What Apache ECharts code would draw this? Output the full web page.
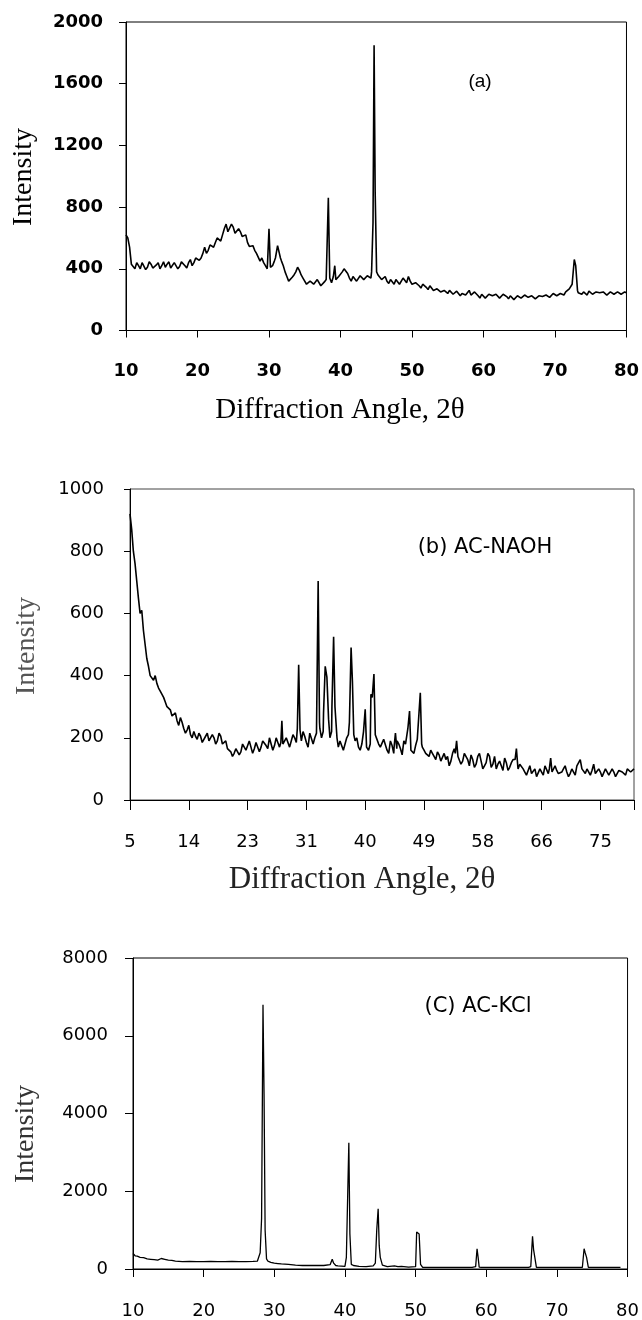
<!DOCTYPE html>
<html>
<head>
<meta charset="utf-8">
<script src="https://cdn.jsdelivr.net/npm/echarts@6/dist/echarts.min.js"></script>
<style>
html,body{margin:0;padding:0;background:#fff;}
#chart{width:642px;height:1320px;}
</style>
</head>
<body>
<div id="chart"></div>
<script>
// ---------- Panel (a) ----------
const angleStartA = 10, angleStepA = 0.5;
const intensityA = [
 620,540,420,440,400,450,410,430,395,440,420,410,445,400,430,415,440,405,460,440,
 480,470,540,520,560,570,600,620,690,640,670,620,640,600,570,540,520,490,470,420,
 430,420,520,500,420,350,330,360,410,360,330,290,330,310,320,300,330,330,350,320,
 340,400,370,320,340,330,350,340,360,380,380,350,340,320,330,300,320,310,330,350,
 300,310,290,300,280,290,260,270,250,260,240,250,230,250,240,230,260,220,240,210,
 230,220,240,215,230,220,235,205,220,210,230,215,225,205,220,215,230,210,240,220,
 235,225,240,250,270,380,330,240,250,230,250,240,260,240,245,235,250,240,260,230,245
];
// in-between readings (at start + 0.25 + k*0.5)
const intensityMidA = [
 600,430,400,420,440,395,445,405,425,400,
 445,430,405,440,400,445,420,440,420,470,
 455,500,500,555,540,600,580,660,640,690,
 630,660,610,620,545,550,500,450,440,400,
 400,450,520,450,380,320,345,380,390,340,
 300,320,300,330,290,315,330,310,380,350,
 380,390,340,350,320,355,330,355,340,400,
 360,330,350,305,325,330,300,340,310,320,
 290,300,275,290,265,280,255,275,240,255,
 260,235,255,225,250,245,230,250,225,235,
 210,235,225,235,210,235,220,225,200,225,
 210,230,215,225,205,225,220,230,215,240,
 225,240,230,255,280,400,245,235,240,255,
 235,250,245,250,230,250,235,250,235,250
];
const peaksA = [
 [[29.8,440],[30.0,660],[30.2,410]],
 [[30.9,470],[31.2,550],[31.6,470]],
 [[38.1,330],[38.3,860],[38.5,340]],
 [[39.05,340],[39.2,420],[39.35,330]],
 [[44.35,380],[44.55,700],[44.7,1850],[44.85,900],[45.05,380]],
 [[72.4,300],[72.7,460],[72.9,420],[73.15,260]]
];

// ---------- Panel (b) ----------
const angleStartB = 5, angleStepB = 0.5;
const intensityB = [
 920,800,705,600,545,455,400,385,375,350,330,300,290,265,255,265,230,225,210,220,
 195,205,190,215,185,200,190,205,175,165,155,150,170,155,175,160,185,165,180,170,
 190,165,195,175,185,190,180,195,175,200,215,190,205,170,210,200,200,200,250,230,
 220,200,170,185,165,210,190,190,170,180,180,160,300,220,180,165,200,150,175,215,
 180,145,180,235,160,175,165,170,150,140,150,130,145,120,130,110,150,190,140,125,
 155,110,130,115,150,100,120,140,115,100,125,95,120,105,130,165,115,100,80,110,
 85,75,100,80,105,135,90,95,80,100,90,85,95,110,130,95,100,80,115,85,
 90,80,95,75,90,80,95,85,100,90,100
];
const intensityMidB = [
 870,760,650,610,500,430,395,400,360,345,
 315,305,270,280,240,250,215,240,200,205,
 215,185,205,190,210,180,215,180,190,160,
 140,165,145,180,160,190,150,185,155,190,
 175,200,160,200,170,175,200,170,210,185,
 200,220,185,215,180,215,230,220,210,200,
 190,180,190,160,200,230,170,200,160,200,
 175,180,230,195,170,195,160,190,150,190,
 165,190,175,200,150,195,170,160,155,160,
 140,155,125,150,140,125,165,150,115,150,
 130,145,105,140,125,110,150,105,140,115,
 110,135,95,120,135,100,120,90,95,85,
 100,70,90,110,85,95,110,85,90,110,
 75,100,80,115,100,85,105,95,85,100,
 75,100,80,100,75,95,90,80,105,85
];
const peaksB = [
 [[27.45,185],[27.6,255],[27.75,180]],
 [[29.9,230],[30.1,435],[30.3,225]],
 [[32.8,215],[33.0,704],[33.2,250]],
 [[33.8,280],[34.05,430],[34.3,395],[34.55,260]],
 [[35.05,300],[35.3,525],[35.5,300],[35.8,200]],
 [[37.65,250],[37.9,490],[38.1,380],[38.3,210]],
 [[39.75,220],[40.0,292],[40.2,170]],
 [[40.85,340],[41.05,330],[41.3,405],[41.5,210]],
 [[44.3,170],[44.5,215],[44.7,165]],
 [[46.35,230],[46.6,286],[46.8,160]],
 [[47.95,200],[48.2,345],[48.4,180]],
 [[53.4,150],[53.6,190],[53.8,140]],
 [[62.3,130],[62.5,165],[62.7,110]],
 [[67.4,100],[67.6,135],[67.8,90]]
];
const tickLabelsB = ['5','14','23','31','40','49','58','66','75'];

// ---------- Panel (c) ----------
const angleC = [10,10.1,10.3,10.6,11,11.5,12,12.5,13,13.5,14,14.5,15,15.5,16,17,18,19,20,21,22,23,24,25,26,27,27.6,28.0,28.2,28.4,28.55,28.7,28.9,29.1,29.5,30,30.5,31,32,33,34,35,36,37,37.9,38.2,38.4,38.7,39,40,40.2,40.4,40.55,40.7,40.9,41.2,42,43,44,44.3,44.5,44.7,44.85,45.0,45.3,46,47,47.5,48,49,50,50.15,50.3,50.5,50.7,51,52,54,56,58,58.5,58.7,58.85,59.0,59.3,60,62,64,66,66.3,66.55,66.7,66.9,67.1,68,70,72,73.6,73.85,74.0,74.2,74.45,75,77,79];
const intensityC = [400,420,340,330,300,290,260,250,240,230,270,250,230,220,200,190,195,190,190,195,190,190,195,190,190,195,200,420,1300,6800,4500,1000,260,200,170,150,140,130,120,100,90,90,95,90,110,250,150,90,80,70,300,2000,3250,900,120,90,70,60,80,150,1000,1550,600,300,100,60,80,60,70,50,60,950,980,900,120,40,40,40,40,40,60,520,300,50,40,40,40,40,40,60,840,500,520,40,40,40,40,40,520,420,300,40,40,40,40];

// ---------- helpers ----------
function buildPoints(start, step, vals, mids, peaks) {
  let pts = vals.map((v, i) => [+(start + i * step).toFixed(3), v]);
  pts = pts.concat(mids.map((v, i) => [+(start + step / 2 + i * step).toFixed(3), v]));
  peaks.forEach(g => {
    const lo = g[0][0], hi = g[g.length - 1][0];
    pts = pts.filter(p => p[0] < lo || p[0] > hi);
    pts = pts.concat(g);
  });
  pts.sort((a, b) => a[0] - b[0]);
  return pts;
}
const dataA = buildPoints(angleStartA, angleStepA, intensityA, intensityMidA, peaksA);
const dataB = buildPoints(angleStartB, angleStepB, intensityB, intensityMidB, peaksB);
const dataC = angleC.map((x, i) => [x, intensityC[i]]);

const serif = "'Liberation Serif', 'Times New Roman', serif";
const sans = "'DejaVu Sans', sans-serif";
const plain = v => String(v);

const chart = echarts.init(document.getElementById('chart'), null, {renderer: 'canvas'});
chart.setOption({
  animation: false,
  backgroundColor: '#fff',
  grid: [
    {left: 126, right: 14, top: 22, height: 308.5, show: true, borderColor: '#000', borderWidth: 1},
    {left: 130, right: 8, top: 489, height: 311, show: true, borderColor: '#444', borderWidth: 1},
    {left: 133, right: 9, top: 958, height: 311, show: true, borderColor: '#000', borderWidth: 1}
  ],
  xAxis: [
    {gridIndex: 0, type: 'value', min: 10, max: 80, interval: 10,
     axisLine: {lineStyle: {color: '#000', width: 1}},
     axisTick: {show: true, length: 7, lineStyle: {color: '#000'}},
     axisLabel: {margin: 32, color: '#000', fontFamily: sans, fontWeight: 'bold', fontSize: 18, formatter: plain},
     splitLine: {show: false}},
    {gridIndex: 1, type: 'value', min: 5, max: 80,
     axisLine: {show: false}, axisTick: {show: false}, axisLabel: {show: false}, splitLine: {show: false}},
    {gridIndex: 2, type: 'value', min: 10, max: 80, interval: 10,
     axisLine: {lineStyle: {color: '#000', width: 1}},
     axisTick: {show: true, length: 8, lineStyle: {color: '#000'}},
     axisLabel: {margin: 33, color: '#000', fontFamily: sans, fontSize: 18, formatter: plain},
     splitLine: {show: false}},
    // tick axis for panel (b): offset scale 0..75 carrying labels 5..75
    {gridIndex: 1, type: 'value', min: 0, max: 75, interval: 8.75, position: 'bottom',
     axisLine: {lineStyle: {color: '#000', width: 1}},
     axisTick: {show: true, length: 10, lineStyle: {color: '#000'}},
     axisLabel: {margin: 33, color: '#000', fontFamily: sans, fontSize: 18,
       formatter: function (v) { const i = Math.round(v / 8.75); return (Math.abs(v - i * 8.75) < 1e-6 && i < tickLabelsB.length) ? tickLabelsB[i] : ''; }},
     splitLine: {show: false}}
  ],
  yAxis: [
    {gridIndex: 0, type: 'value', min: 0, max: 2000, interval: 400,
     axisLine: {show: true, lineStyle: {color: '#000', width: 1}},
     axisTick: {show: true, length: 7, lineStyle: {color: '#000'}},
     axisLabel: {margin: 23, color: '#000', fontFamily: sans, fontWeight: 'bold', fontSize: 18, formatter: plain},
     splitLine: {show: false}},
    {gridIndex: 1, type: 'value', min: 0, max: 1000, interval: 200,
     axisLine: {show: true, lineStyle: {color: '#000', width: 1}},
     axisTick: {show: true, length: 6, lineStyle: {color: '#000'}},
     axisLabel: {margin: 26, color: '#000', fontFamily: sans, fontSize: 18, formatter: plain},
     splitLine: {show: false}},
    {gridIndex: 2, type: 'value', min: 0, max: 8000, interval: 2000,
     axisLine: {show: true, lineStyle: {color: '#000', width: 1}},
     axisTick: {show: true, length: 8, lineStyle: {color: '#000'}},
     axisLabel: {margin: 25, color: '#000', fontFamily: sans, fontSize: 18, formatter: plain},
     splitLine: {show: false}}
  ],
  series: [
    {type: 'line', xAxisIndex: 0, yAxisIndex: 0, data: dataA, showSymbol: false, symbol: 'none',
     lineStyle: {color: '#000', width: 1.6}},
    {type: 'line', xAxisIndex: 1, yAxisIndex: 1, data: dataB, showSymbol: false, symbol: 'none',
     lineStyle: {color: '#000', width: 1.6}},
    {type: 'line', xAxisIndex: 2, yAxisIndex: 2, data: dataC, showSymbol: false, symbol: 'none',
     lineStyle: {color: '#000', width: 1.3}}
  ],
  graphic: [
    {type: 'text', x: 340, y: 410, style: {text: 'Diffraction Angle, 2θ', font: "29px " + serif, fill: '#000', align: 'center', verticalAlign: 'middle'}},
    {type: 'text', x: 24, y: 177, rotation: Math.PI / 2, style: {text: 'Intensity', font: "28px " + serif, fill: '#000', align: 'center', verticalAlign: 'middle'}},
    {type: 'text', x: 480, y: 82, style: {text: '(a)', font: "19px 'Liberation Sans', sans-serif", fill: '#000', align: 'center', verticalAlign: 'middle'}},

    {type: 'text', x: 362, y: 880, style: {text: 'Diffraction Angle, 2θ', font: "31px " + serif, fill: '#222', align: 'center', verticalAlign: 'middle'}},
    {type: 'text', x: 27, y: 646, rotation: Math.PI / 2, style: {text: 'Intensity', font: "28px " + serif, fill: '#555', align: 'center', verticalAlign: 'middle'}},
    {type: 'text', x: 485, y: 548, style: {text: '(b) AC-NAOH', font: "21px " + sans, fill: '#000', align: 'center', verticalAlign: 'middle'}},

    {type: 'text', x: 26, y: 1134, rotation: Math.PI / 2, style: {text: 'Intensity', font: "28px " + serif, fill: '#333', align: 'center', verticalAlign: 'middle'}},
    {type: 'text', x: 478, y: 1007, style: {text: '(C) AC-KCl', font: "21px " + sans, fill: '#000', align: 'center', verticalAlign: 'middle'}}
  ]
});
</script>
</body>
</html>
